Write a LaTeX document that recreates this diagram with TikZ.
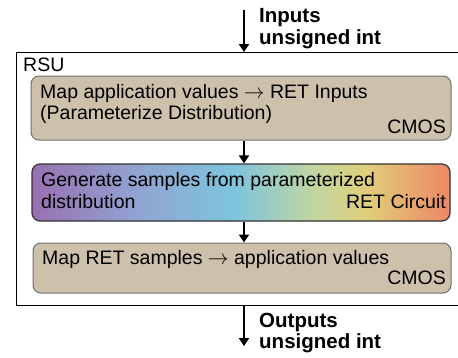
\documentclass[tikz,border=0pt]{standalone}
\usepackage{fontspec}
\setmainfont{Liberation Sans}
\usetikzlibrary{arrows.meta}
\definecolor{tan}{RGB}{205,193,171}
\definecolor{tanborder}{RGB}{110,110,110}
\definecolor{gpur}{RGB}{152,112,176}
\definecolor{gblu}{RGB}{145,163,210}
\definecolor{gcya}{RGB}{125,196,222}
\definecolor{ggrn}{RGB}{196,214,160}
\definecolor{gyel}{RGB}{224,206,122}
\definecolor{gora}{RGB}{238,135,100}
\pgfdeclarehorizontalshading{retgrad}{100bp}{color(0bp)=(gpur); color(25bp)=(gpur); color(37.5bp)=(gblu); color(49bp)=(gcya); color(59bp)=(ggrn); color(65bp)=(gyel); color(75bp)=(gora); color(100bp)=(gora)}
\begin{document}
\begin{tikzpicture}[x=1pt,y=-1pt,
  font=\fontsize{19.5}{23}\selectfont,
  cmosbox/.style={draw=tanborder,line width=1pt,fill=tan,rounded corners=8pt,inner sep=0pt},
  retbox/.style={draw=black!80,line width=1.2pt,shading=retgrad,rounded corners=8pt,inner sep=0pt},
  txt/.style={inner sep=0pt,anchor=base west},
  rtxt/.style={inner sep=0pt,anchor=base east},
  btxt/.style={inner sep=0pt,anchor=base west,font=\fontsize{20.5}{24}\selectfont\bfseries},
  arr/.style={line width=2.6pt,-{Triangle[width=10pt,length=8pt]}}]
\useasboundingbox (0,0) rectangle (458,357);
% outer RSU frame
\draw[line width=1pt] (460,52) -- (16,52) -- (16,305) -- (460,305);
\node[txt] (rsu) at (23,71.5) {RSU};
% boxes
\node[cmosbox,minimum width=420pt,minimum height=64pt] (b1) at (241,108) {};
\node[retbox,minimum width=418pt,minimum height=57pt] (b2) at (241,192.5) {};
\node[cmosbox,minimum width=418pt,minimum height=50pt] (b3) at (242,268) {};
% texts
\node[txt] (t1a) at (40,98) {Map application values $\rightarrow$ RET Inputs};
\node[txt] (t1b) at (40,119) {(Parameterize Distribution)};
\node[rtxt] (t1c) at (446,133) {CMOS};
\node[txt] (t2a) at (41,186) {Generate samples from parameterized};
\node[txt] (t2b) at (41,208) {distribution};
\node[rtxt] (t2c) at (446,208) {RET Circuit};
\node[txt] (t3a) at (42,264) {Map RET samples $\rightarrow$ application values};
\node[rtxt] (t3c) at (446,284) {CMOS};
% in/out labels
\node[btxt] (inl) at (259,22) {Inputs};
\node[btxt] (inl2) at (259,44) {unsigned int};
\node[btxt] (outl) at (259,327) {Outputs};
\node[btxt] (outl2) at (259,348) {unsigned int};
% arrows
\coordinate (top) at (244,10);
\coordinate (frametop) at (244,52);
\coordinate (framebot) at (244,305);
\coordinate (bot) at (244,346);
\draw[arr] (top) -- (frametop);
\draw[arr] (b1.south -| top) -- (b2.north -| top);
\draw[arr] (b2.south -| top) -- (b3.north -| top);
\draw[arr] (framebot) -- (bot);
\end{tikzpicture}
\end{document}
